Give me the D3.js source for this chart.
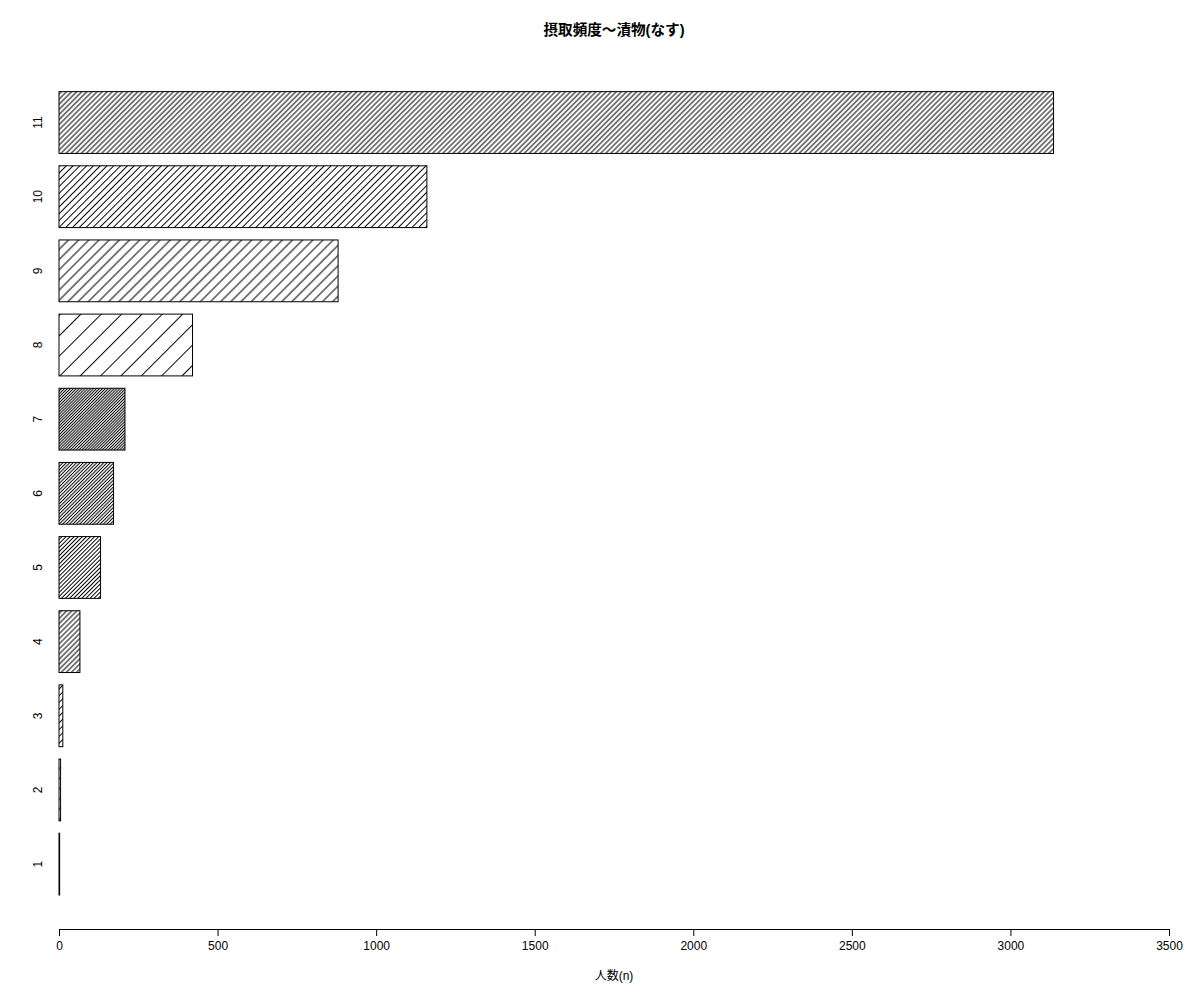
<!DOCTYPE html>
<html>
<head>
<meta charset="utf-8">
<script src="https://cdn.jsdelivr.net/npm/d3@7"></script>
<style>
  body { margin: 0; background: #fff; }
  text { font-family: "Liberation Sans", Arial, "Noto Sans CJK JP", sans-serif; }
</style>
</head>
<body>
<div class="chart"></div>
<script>
// categories (bottom to top) and counts
var categories = ["1", "2", "3", "4", "5", "6", "7", "8", "9", "10", "11"];
var counts = [2, 5, 12, 66, 131, 172, 208, 421, 880, 1160, 3136];
// hatch density (lines per inch), recycled like R does
var densities = [5, 10, 15, 20, 25, 30, 35];
var xTicks = [0, 500, 1000, 1500, 2000, 2500, 3000, 3500];

var titleText = "摂取頻度〜漬物(なす)";
var xLabel = "人数(n)";

var width = 1200,
  height = 1000;
var plot = { left: 59, right: 1169, top: 59, bottom: 929 };

var svg = d3
  .select(".chart")
  .append("svg")
  .attr("width", width)
  .attr("height", height);

var xScale = d3.scaleLinear().domain([0, 3500]).range([plot.left, plot.right]);
// bar i sits between 0.2 + 1.2*i and 1.2 + 1.2*i (R barplot, space = 0.2)
var yScale = d3.scaleLinear().domain([-0.35, 13.728]).range([plot.bottom, plot.top]);

// hatch patterns, one per bar
var defs = svg.append("defs");
categories.forEach(function (c, i) {
  var dens = densities[i % densities.length];
  var gap = 72 / dens;
  var pat = defs
    .append("pattern")
    .attr("id", "hatch" + i)
    .attr("patternUnits", "userSpaceOnUse")
    .attr("width", gap)
    .attr("height", 10)
    .attr("patternTransform", "translate(" + plot.left + ",0) rotate(45)");
  pat
    .append("line")
    .attr("x1", gap / 2)
    .attr("x2", gap / 2)
    .attr("y1", -1)
    .attr("y2", 11)
    .attr("stroke", "#000")
    .attr("stroke-width", 1);
});

// bars
var bars = svg.append("g").attr("class", "bars");
categories.forEach(function (c, i) {
  var y0 = 0.2 + 1.2 * i;
  bars
    .append("rect")
    .attr("x", xScale(0))
    .attr("y", yScale(y0 + 1))
    .attr("width", xScale(counts[i]) - xScale(0))
    .attr("height", yScale(y0) - yScale(y0 + 1))
    .attr("fill", "url(#hatch" + i + ")")
    .attr("stroke", "#000")
    .attr("stroke-width", 1);
});

// category labels on the left, rotated like R's las = 0
categories.forEach(function (c, i) {
  var yc = yScale(0.7 + 1.2 * i);
  svg
    .append("text")
    .attr("transform", "translate(" + 42 + "," + yc + ") rotate(-90)")
    .attr("text-anchor", "middle")
    .attr("font-size", "12px")
    .text(c);
});

// x axis
var xAxis = d3
  .axisBottom(xScale)
  .tickValues(xTicks)
  .tickFormat(d3.format("d"))
  .tickSize(7)
  .tickSizeOuter(0)
  .tickPadding(5);
var gx = svg
  .append("g")
  .attr("class", "axis axis--x")
  .attr("transform", "translate(0," + plot.bottom + ")")
  .call(xAxis);
gx.select(".domain").attr("stroke", "#000");
gx.selectAll(".tick line").attr("stroke", "#000");
gx.selectAll(".tick text")
  .attr("fill", "#000")
  .attr("font-size", "12px")
  .attr("font-family", "Liberation Sans, Arial, sans-serif");

// x label
svg
  .append("text")
  .attr("x", (plot.left + plot.right) / 2)
  .attr("y", 980)
  .attr("text-anchor", "middle")
  .attr("font-size", "12px")
  .text(xLabel);

// title
svg
  .append("text")
  .attr("x", (plot.left + plot.right) / 2)
  .attr("y", 35)
  .attr("text-anchor", "middle")
  .attr("font-size", "14.6px")
  .attr("font-weight", "bold")
  .text(titleText);
</script>
</body>
</html>
